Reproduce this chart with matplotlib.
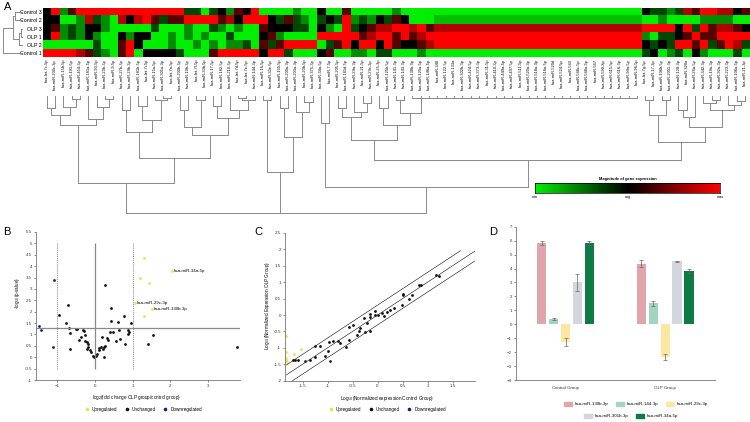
import matplotlib.pyplot as plt
import numpy as np
from matplotlib.colors import LinearSegmentedColormap
from matplotlib.patches import Patch

plt.rcParams["font.family"] = ["Liberation Sans", "DejaVu Sans"]

W, H = 750, 422

# ---------------- panel A: heatmap ----------------
samples = ["Control 3", "Control 2", "OLP 3", "OLP 1", "OLP 2", "Control 1"]
level = {"G": -1.0, "h": -0.8, "g": -0.6, "d": -0.3, "k": 0.0,
         "m": 0.35, "r": 0.7, "R": 1.0}
heat_rows = [
    "kRgmRRRRRRRRRRRRRddGdkgmkRGG" + "GGgGGkGGmGGGGGgGGGG" + "G" * 25 + "kddgdrmRRrrkm",
    "kkGGgrdgGrkrRmdmmRRRRmrkRRRk" + "dmdgGdkdRgdgkdmkGGG" + "h" * 25 + "GGgGGGGggggGG",
    "kmgdgkkgGGGGGdGGGgGGdgGgGGmk" + "kkddGkgGRdkmrrRRrRm" + "r" * 25 + "RRRRkRdRmrrmk",
    "kRgdgkgGGkgkkGGgGgGgGGdGGGkm" + "gGGGGRRRRRmrRRmRmrR" + "R" * 25 + "gGddkmRmmRRRR",
    "GGGGGGdGGmRkGGGgGGgGgGggdGmd" + "mRRRRGdmRkRRkRmkkmr" + "R" * 25 + "kdkdRRmRdmRrd",
    "RRRRrmdgGmRGkkkkdGGGmRRRRRkR" + "RdGGGkmGGggGddGGGgG" + "G" * 25 + "dkGgdGkgGGGdG",
]
mirnas = [
    "hsa-let-7c-5p", "hsa-miR-200c-3p", "hsa-miR-15b-5p", "hsa-miR-191-5p",
    "hsa-miR-454-3p", "hsa-miR-181a-5p", "hsa-miR-93-5p", "hsa-miR-23b-3p",
    "hsa-miR-9-5p", "hsa-miR-27b-3p", "hsa-miR-29b-3p", "hsa-miR-181b-5p",
    "hsa-let-7i-5p", "hsa-miR-15a-5p", "hsa-miR-301a-3p", "hsa-let-7a-5p",
    "hsa-miR-200b-3p", "hsa-miR-19b-3p", "hsa-let-7f-5p", "hsa-miR-30b-5p",
    "hsa-miR-17-5p", "hsa-miR-182-5p", "hsa-miR-210-3p", "hsa-let-7d-5p",
    "hsa-let-7e-5p", "hsa-miR-144-3p", "hsa-miR-16-5p", "hsa-miR-30e-5p",
    "hsa-miR-150-5p", "hsa-miR-200a-3p", "hsa-miR-203a-3p", "hsa-miR-20b-5p",
    "hsa-miR-375-3p", "hsa-miR-34a-5p", "hsa-miR-7-5p", "hsa-miR-205-5p",
    "hsa-miR-181d-5p", "hsa-miR-29a-3p", "hsa-miR-21-5p", "hsa-miR-29c-3p",
    "hsa-miR-25-3p", "hsa-miR-125b-5p", "hsa-miR-141-3p", "hsa-miR-143-3p",
    "hsa-miR-130b-3p", "hsa-miR-125a-5p", "hsa-miR-146a-5p", "hsa-miR-340",
    "hsa-miR-122-5p", "hsa-miR-133a", "hsa-miR-302b-3p", "hsa-miR-424-5p",
    "hsa-miR-373-3p", "hsa-miR-31-5p", "hsa-miR-410-3p", "hsa-miR-449a-5p",
    "hsa-miR-497-5p", "hsa-miR-511-5p", "hsa-miR-520a-3p", "hsa-miR-518a-3p",
    "hsa-miR-516a-5p", "hsa-miR-520d", "hsa-miR-524-5p", "hsa-miR-543",
    "hsa-miR-548c-5p", "hsa-miR-548a-5p", "hsa-miR-567", "hsa-miR-590-3p",
    "hsa-miR-615-5p", "hsa-miR-616-3p", "hsa-miR-99a-5p", "hsa-miR-96-5p",
    "hsa-let-7g-5p", "hsa-miR-17-3p", "hsa-miR-106b-5p", "hsa-miR-2001-3p",
    "hsa-miR-128-3p", "hsa-miR-320a", "hsa-miR-26a-5p", "hsa-miR-342-3p",
    "hsa-miR-19a-3p", "hsa-miR-92a-3p", "hsa-miR-223-3p", "hsa-miR-106a-5p",
    "hsa-miR-21-3p",
]

# row dendrogram: [height, child, child]; leaves are row indices
row_tree = [20, [10, [8, 0, 1], [4, [2, 2, 3], 4]], 5]

# column dendrogram, heights in px below the label band; leaves are columns
tied_cols = list(range(44, 72))      # identical profiles, merge almost at once
tied = tied_cols[-1]
for c in reversed(tied_cols[:-1]):
    tied = [2.3, c, tied]

clu_a = [87.3,
         [29, [19, [12, 0, 1], [11, 2, [3, 3, 4]]], [23, 5, [11, 6, [3, 7, 8]]]],
         [62.3,
          [35.7, [14, 9, 10], [24, [10, 11, 12], [4, 13, [2, 14, 15]]]],
          [39, [30.7, [14, 16, 17], [4, 18, 19]],
           [22, [10, 20, 21], [14, 22, [4, [2, 23, 24], 25]]]]]]
clu_c = [75.7, [4, 26, 27], [40.7, [12, 28, 29], [16, 30, [6, 31, 32]]]]
clu_q = [27, 33, 34]
clu_l = [44,
         [20.7, [12, 35, 36], [16, 37, [7, 38, 39]]],
         [29, [12, 40, 41], [17.3, [4, 42, 43], tied]]]
clu_r = [45.7, [19, [4, 72, 73], [4, 74, 75]],
         [30.7, [21, [14, 76, 77], 78], [14, [7, 79, [4, 80, 81]], [9, 82, [5, 83, 84]]]]]
col_tree = [117.3, [117.3, clu_a, clu_c], [90.7, clu_q, [64, clu_l, clu_r]]]

# ---------------- panel B: volcano ----------------
b_up_x = [1.31, 1.19, 2.05, 1.43, 1.07, 1.52, 1.29]
b_up_y = [4.37, 3.50, 3.79, 3.26, 2.38, 2.12, 1.82]
b_up_names = ["", "", "hsa-miR-34a-5p", "", "hsa-miR-29c-3p", "hsa-miR-130b-3p", ""]
b_down_x = [-1.09, -1.49, -1.44, -1.10]
b_down_y = [3.37, 1.37, 1.20, 0.44]
b_mid_x = [-0.96, -0.71, -0.76, -0.69, -0.65, -0.66, -0.50, -0.48, -0.38, -0.43,
           -0.31, -0.28, -0.26, -0.27, -0.20, -0.18, -0.19, -0.20, -0.12, -0.09,
           -0.06, -0.02, 0.02, 0.06, 0.10, 0.12, 0.15, 0.19, 0.21, 0.23, 0.25,
           0.28, 0.31, 0.27, 0.35, 0.40, 0.42, 0.44, 0.48, 0.56, 0.62, 0.65,
           0.67, 0.77, 0.81, 0.88, 0.89, 0.91, 0.97, 1.40, 1.55, 3.77]
b_mid_y = [1.87, 2.29, 1.50, 1.29, 1.06, 0.37, 1.24, 1.25, 0.91, 0.74,
           1.19, 1.15, 0.97, 0.72, 0.69, 0.57, 0.46, 0.37, 0.32, 0.25,
           0.07, 0.03, 0.06, 0.15, 0.32, 0.41, 0.47, 0.88, 0.35, 0.03, 0.44,
           0.51, 0.85, 3.18, 0.75, 1.12, 1.60, 2.15, 1.12, 0.71, 1.56, 1.18,
           0.79, 1.82, 0.57, 1.21, 1.03, 1.09, 1.51, 0.60, 0.96, 0.45]

# ---------------- panel C: scatter ----------------
c_up_x = [-1.83, -1.83, -1.83, -1.83, -1.82, -1.68, -1.53]
c_up_y = [-0.63, -1.14, -1.30, -1.37, -1.42, -1.20, -1.02]
c_down_x = [-1.45, -0.95]
c_down_y = [-1.40, -1.40]
c_mid_x = [-1.70, -1.65, -1.60, -1.36, -1.26, -1.25, -1.15, -1.06, -1.00, -0.97,
           -0.90, -0.79, -0.76, -0.63, -0.58, -0.57, -0.49, -0.42, -0.38, -0.36,
           -0.28, -0.26, -0.22, -0.16, -0.15, -0.15, -0.06, -0.05, 0.00, 0.08,
           0.12, 0.18, 0.25, 0.32, 0.49, 0.50, 0.51, 0.62, 0.69, 0.83, 0.86,
           1.17, 1.23]
c_mid_y = [-1.38, -1.38, -1.38, -1.38, -1.29, -0.95, -0.93, -1.24, -1.08, -0.83,
           -0.78, -0.80, -0.86, -0.96, -0.77, -0.37, -0.29, -0.60, -0.50, -0.39,
           -0.09, -0.53, -0.23, -0.48, 0.02, -0.06, 0.11, -0.01, -0.01, 0.05,
           -0.02, 0.10, 0.15, 0.22, 0.30, 0.60, 0.64, 0.49, 0.62, 0.93, 0.91,
           1.23, 1.20]
c_offsets = [0.3, 0.0, -0.3]

# ---------------- panel D: bars ----------------
d_groups = ["Control Group", "OLP Group"]
d_mirs = ["hsa-miR-130b-3p", "hsa-miR-144-3p", "hsa-miR-29c-3p",
          "hsa-miR-301b-3p", "hsa-miR-34a-5p"]
d_vals = [[5.85, 4.34], [0.37, 1.50], [-1.30, -2.38], [3.00, 4.52], [5.85, 3.80]]
d_errs = [[0.15, 0.25], [0.08, 0.18], [0.28, 0.22], [0.58, 0.05], [0.15, 0.13]]
d_colors = ["#e0a4ab", "#a3d4c1", "#fbe7a0", "#d3d6de", "#0e7a45"]

UP, MID, DOWN = "#f3dc4e", "#111111", "#1c1c78"
LINE = "#8a8a8a"


def px_axes(fig, x0, y0, x1, y1):
    return fig.add_axes([x0 / W, 1 - y1 / H, (x1 - x0) / W, (y1 - y0) / H])


def draw_tree(ax, node, vertical):
    if isinstance(node, int):
        return node, 0.0
    h, *kids = node
    placed = [draw_tree(ax, k, vertical) for k in kids]
    for p, kh in placed:
        xs, ys = [p, p], [kh, h]
        ax.plot(*((xs, ys) if vertical else (ys, xs)), color=LINE, lw=0.7)
    ends = [placed[0][0], placed[-1][0]]
    ax.plot(*((ends, [h, h]) if vertical else ([h, h], ends)), color=LINE, lw=0.7)
    return sum(ends) / 2, h


def style_axes(ax, size=3.2):
    for s in ("top", "right"):
        ax.spines[s].set_visible(False)
    for s in ("left", "bottom"):
        ax.spines[s].set_color("#777777")
        ax.spines[s].set_linewidth(0.6)
    ax.tick_params(labelsize=size, length=1.2, width=0.4, pad=1.5, colors="#333333")


fig = plt.figure(figsize=(W / 100, H / 100), dpi=100)

# heatmap
gmap = LinearSegmentedColormap.from_list("gkr", ["#00ee00", "#000000", "#ff0000"])
grid = np.array([[level[c] for c in row] for row in heat_rows])
ax_h = px_axes(fig, 42.7, 8, 749, 57.5)
ax_h.imshow(grid, cmap=gmap, vmin=-1, vmax=1, aspect="auto", interpolation="nearest")
ax_h.set_xticks(range(len(mirnas)))
ax_h.set_xticklabels(mirnas, rotation=90, fontsize=2.9)
ax_h.set_yticks(range(len(samples)))
ax_h.set_yticklabels(samples, fontsize=3.8)
ax_h.tick_params(length=0, pad=1)
for s in ax_h.spines.values():
    s.set_visible(False)

ax_rd = px_axes(fig, 2, 8, 23, 57.5)
draw_tree(ax_rd, row_tree, vertical=False)
ax_rd.set_xlim(20.5, 0)
ax_rd.set_ylim(5.5, -0.5)
ax_rd.axis("off")

ax_cd = px_axes(fig, 42.7, 96, 749, 216)
draw_tree(ax_cd, col_tree, vertical=True)
ax_cd.set_xlim(-0.5, len(mirnas) - 0.5)
ax_cd.set_ylim(120, 0)
ax_cd.axis("off")

# colour key
ax_k = px_axes(fig, 535, 183, 720, 193)
ax_k.imshow(np.linspace(-1, 1, 256)[None, :], cmap=gmap, aspect="auto",
            extent=(0, 1, 0, 1))
ax_k.set_yticks([])
ax_k.set_xticks([0, 0.5, 1])
ax_k.set_xticklabels(["min", "avg", "max"])
ax_k.tick_params(labelsize=2.8, length=0, pad=1.5)
for s in ax_k.spines.values():
    s.set_linewidth(0.5)
ax_k.set_title("Magnitude of gene expression", fontsize=2.9, fontweight="bold", pad=2.5)

legend_kw = dict(loc="center", ncol=3, frameon=False, fontsize=3.3, markerscale=1.3,
                 handletextpad=0.15, columnspacing=1.0, bbox_transform=fig.transFigure)

# panel B
ax_b = px_axes(fig, 35.7, 232, 240, 380)
style_axes(ax_b)
ax_b.set_xlim(-1.57, 3.85)
ax_b.set_ylim(-1, 5.5)
ax_b.set_yticks(np.arange(-1, 5.51, 0.5))
ax_b.set_yticklabels([f"{v:g}" for v in np.arange(-1, 5.51, 0.5)])
ax_b.set_xticks([-1, 0, 1, 2, 3])
ax_b.vlines([-1, 1], -0.5, 5, colors="#555555", lw=0.5, linestyles=(0, (1.5, 1.5)))
ax_b.vlines(0, -0.5, 5, colors=LINE, lw=0.9)
ax_b.axhline(1.3, color=LINE, lw=0.9)
up_b = ax_b.scatter(b_up_x, b_up_y, s=4, color=UP, lw=0, label="Upregulated")
mid_b = ax_b.scatter(b_mid_x, b_mid_y, s=4, color=MID, lw=0, label="Unchanged")
down_b = ax_b.scatter(b_down_x, b_down_y, s=4, color=DOWN, lw=0, label="Downregulated")
for x, y, name in zip(b_up_x, b_up_y, b_up_names):
    if name:
        ax_b.text(x + 0.04, y, name, fontsize=3.2, va="center")
ax_b.set_xlabel(r"log$_2$(fold change OLP group/control group)", fontsize=3.3)
ax_b.set_ylabel(r"-log$_{10}$(p-value)", fontsize=3.3)
ax_b.xaxis.set_label_coords(0.494, -0.088)
ax_b.yaxis.set_label_coords(-0.068, 0.59)
ax_b.legend(handles=[up_b, mid_b, down_b], bbox_to_anchor=(142 / W, 1 - 409 / H),
            **legend_kw)

# panel C
ax_c = px_axes(fig, 285, 233, 475, 380.7)
style_axes(ax_c)
ax_c.set_xlim(-1.85, 1.95)
ax_c.set_ylim(-2, 2.5)
ax_c.set_yticks(np.arange(-2, 2.51, 0.5))
ax_c.set_yticklabels([f"{v:g}" for v in np.arange(-2, 2.51, 0.5)])
ax_c.set_xticks(np.arange(-1.5, 1.51, 0.5))
ax_c.set_xticklabels([f"{v:g}" for v in np.arange(-1.5, 1.51, 0.5)])
for off in c_offsets:
    x0 = max(-1.82, -2 - off)
    x1 = min(1.96, 1.96 - off)
    ax_c.plot([x0, x1], [x0 + off, x1 + off], color="#222222", lw=0.45)
up_c = ax_c.scatter(c_up_x, c_up_y, s=4, color=UP, lw=0, label="Upregulated")
mid_c = ax_c.scatter(c_mid_x, c_mid_y, s=4, color=MID, lw=0, label="Unchanged")
down_c = ax_c.scatter(c_down_x, c_down_y, s=4, color=DOWN, lw=0, label="Downregulated")
ax_c.set_xlabel(r"Log$_{10}$(Normalized expression Control Group)", fontsize=3.3)
ax_c.set_ylabel(r"Log$_{10}$(Normalized Expression OLP Group)", fontsize=3.3)
ax_c.xaxis.set_label_coords(0.537, -0.088)
ax_c.yaxis.set_label_coords(-0.07, 0.51)
ax_c.legend(handles=[up_c, mid_c, down_c], bbox_to_anchor=(386 / W, 1 - 409 / H),
            **legend_kw)

# panel D
ax_d = px_axes(fig, 515.7, 226.7, 715, 380)
style_axes(ax_d)
ax_d.set_xlim(-0.5, 1.5)
ax_d.set_ylim(-4, 7)
ax_d.set_yticks(range(-4, 8))
gx = np.arange(len(d_groups))
for i, (name, vals, errs, col) in enumerate(zip(d_mirs, d_vals, d_errs, d_colors)):
    ax_d.bar(gx + (i - 2) * 0.12, vals, width=0.093, color=col, label=name,
             yerr=errs, error_kw=dict(ecolor="#666666", elinewidth=0.5,
                                      capsize=1.3, capthick=0.5))
ax_d.set_xticks(gx)
ax_d.set_xticklabels(d_groups)
ax_d.tick_params(axis="x", length=0, pad=4)
hd = [Patch(color=c, label=n) for c, n in zip(d_colors, d_mirs)]
bar_kw = dict(loc="center", frameon=False, fontsize=3.2, handlelength=1.9,
              handleheight=0.9, handletextpad=0.6, columnspacing=1.6,
              bbox_transform=fig.transFigure)
first = ax_d.legend(handles=hd[:3], ncol=3, bbox_to_anchor=(636 / W, 1 - 404 / H), **bar_kw)
ax_d.add_artist(first)
ax_d.legend(handles=hd[3:], ncol=2, bbox_to_anchor=(631 / W, 1 - 416 / H), **bar_kw)

for letter, (x, y) in zip("ABCD", [(8, 7), (7, 232), (258, 232), (493, 232)]):
    fig.text(x / W, 1 - y / H, letter, fontsize=8, ha="center", va="center")

fig.savefig("out.png", dpi=100)
